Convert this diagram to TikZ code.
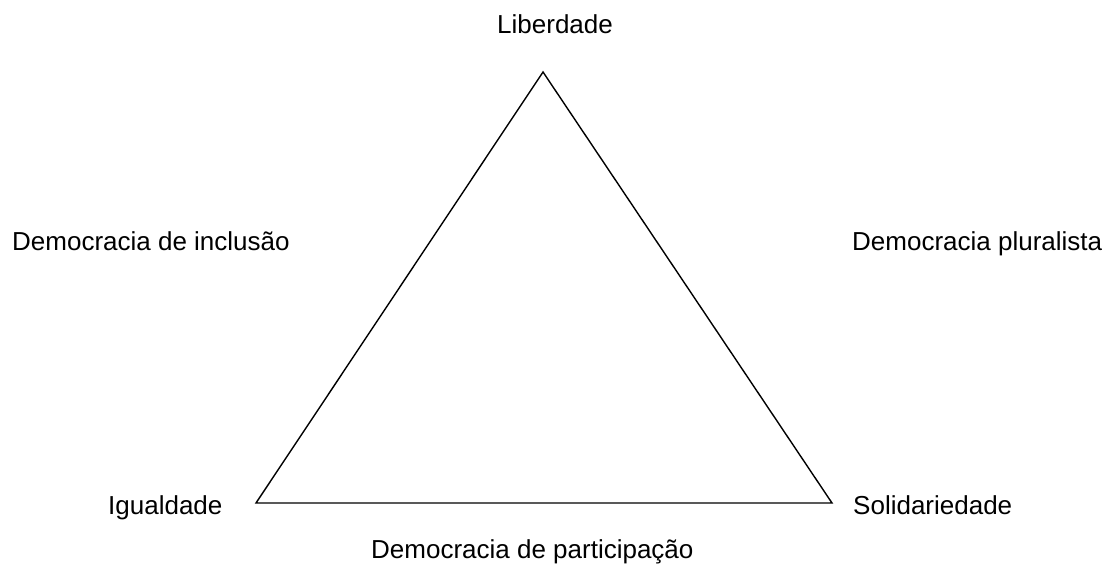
\documentclass[tikz,border=0pt]{standalone}
\usepackage{fontspec}
\setmainfont{Liberation Sans}
\begin{document}
\begin{tikzpicture}[x=1pt,y=-1pt,
  lbl/.style={inner sep=0pt,anchor=base west,font=\fontsize{26}{30}\selectfont},
  edge/.style={line width=1.4pt,line join=miter}]
\useasboundingbox (0,0) rectangle (1116,565);
\coordinate (L) at (543,72);
\coordinate (I) at (256,503);
\coordinate (S) at (832,503);
\draw[edge] (L) -- (S) -- (I) -- cycle;
\node[lbl] (lib) at (497,33) {Liberdade};
\node[lbl] (inc) at (12,250) {Democracia de inclusão};
\node[lbl] (plu) at (852,250) {Democracia pluralista};
\node[lbl] (igu) at (108,514) {Igualdade};
\node[lbl] (sol) at (853,514) {Solidariedade};
\node[lbl] (par) at (371,558) {Democracia de participação};
\end{tikzpicture}
\end{document}
